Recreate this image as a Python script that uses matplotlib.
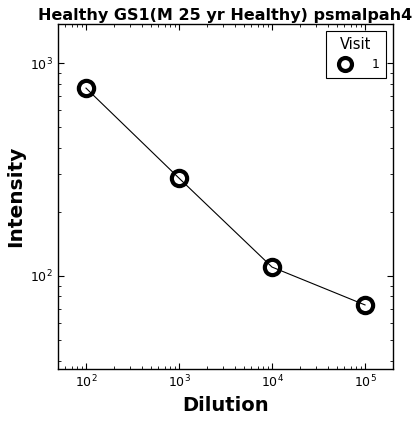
import matplotlib
matplotlib.use("Agg")
import matplotlib.pyplot as plt

dilution = [1e2, 1e3, 1e4, 1e5]
intensity = [763, 288, 110, 73]
visit_label = "1"

fig = plt.figure(figsize=(4.19, 4.22), dpi=100)
ax = fig.add_axes([0.1384, 0.1256, 0.938 - 0.1384, 0.943 - 0.1256])
ax.plot(dilution, intensity, color="black", lw=0.8)
ax.plot(dilution, intensity, ls="none", marker="o", ms=11,
        mfc="none", mec="black", mew=3, label=visit_label)
ax.set_xscale("log")
ax.set_yscale("log")
ax.set_xlim(50, 2e5)
ax.set_ylim(min(intensity) / 2, max(intensity) * 2)
ax.tick_params(which="both", direction="in", top=True, right=True, labelsize=9)
ax.tick_params(which="major", length=4)
ax.tick_params(which="minor", length=2)
for s in ax.spines.values():
    s.set_linewidth(1.0)
ax.set_title("Healthy GS1(M 25 yr Healthy) psmalpah4", fontsize=11.5, fontweight="bold", pad=3)
ax.set_xlabel("Dilution", fontsize=14, fontweight="bold")
ax.set_ylabel("Intensity", fontsize=14.5, fontweight="bold")
leg = ax.legend(title="Visit", loc="upper right", fancybox=False, framealpha=1,
                edgecolor="black", fontsize=9, title_fontsize=10.5, numpoints=1,
                handlelength=2.0, handletextpad=1.2, borderpad=0.5,
                borderaxespad=0.55, markerscale=0.85)
leg.get_frame().set_linewidth(0.8)
fig.savefig("out.png", dpi=100)
